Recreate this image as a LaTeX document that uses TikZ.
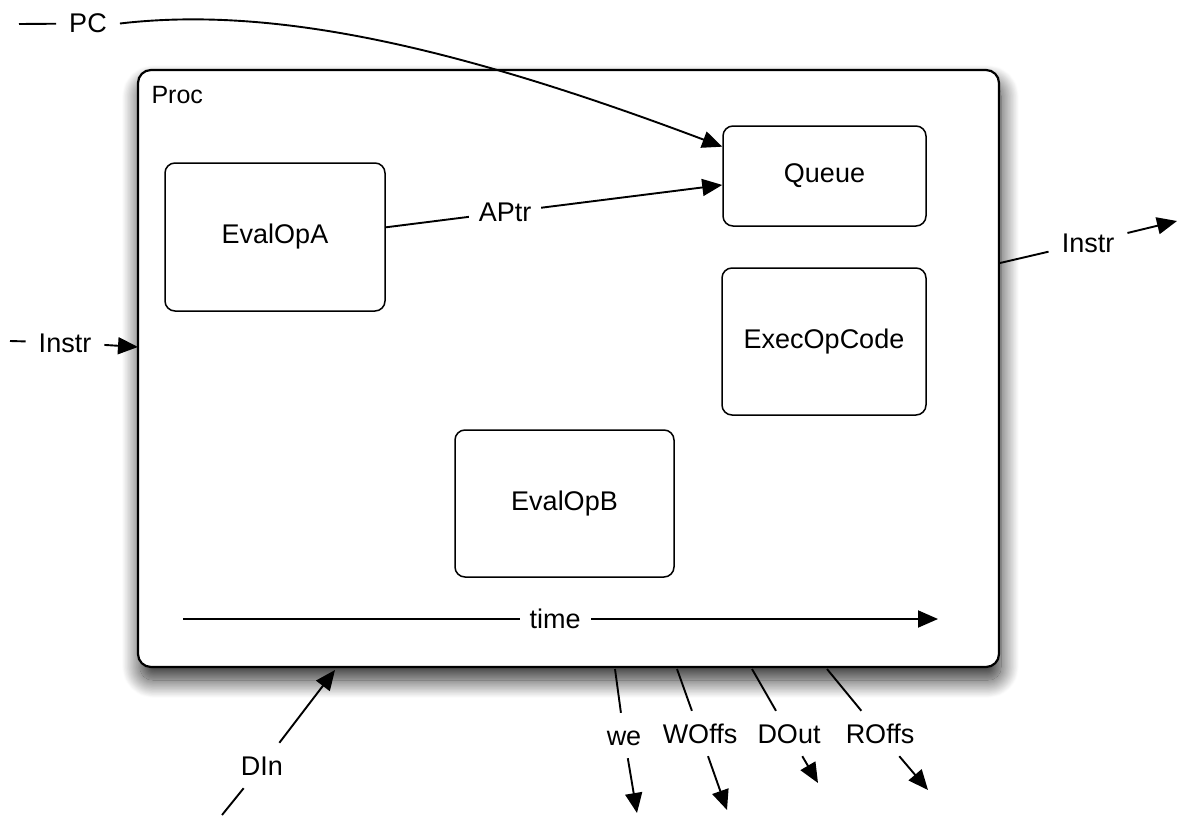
\documentclass[tikz,border=0pt]{standalone}
\usepackage{fontspec}
\setmainfont{Liberation Sans}
\usetikzlibrary{arrows.meta,shadows.blur}
\begin{document}
\begin{tikzpicture}[x=1pt,y=-1pt,
  every node/.style={font=\fontsize{27}{32}\selectfont},
  procbox/.style={draw, line width=2.2pt, rounded corners=13pt, fill=white,
    blur shadow={shadow xshift=2pt, shadow yshift=-13pt, shadow blur radius=18pt,
                 shadow blur steps=30, shadow opacity=85}},
  stage/.style={draw, line width=1.5pt, rounded corners=10pt, fill=white},
  wire/.style={line width=1.9pt},
  tip/.style={wire, -{Triangle[length=20pt,width=17pt]}},
  port/.style={anchor=base, inner sep=13pt, text height=19pt, text depth=0pt},
  inline/.style={fill=white, inner xsep=10pt, inner ysep=4pt},
]
\useasboundingbox (0,0) rectangle (1178,816);

% enclosing process
\node[procbox, minimum width=861pt, minimum height=597pt] (proc) at (568.5,368.5) {};
\node[anchor=base west, font=\fontsize{25}{30}\selectfont] (proclab) at (148,103) {Proc};

% inner stages
\node[stage, minimum width=220pt, minimum height=148pt] (evala) at (275,237) {EvalOpA};
\node[stage, minimum width=203pt, minimum height=100pt] (queue) at (824.5,176) {Queue};
\node[stage, minimum width=204pt, minimum height=147pt] (exec) at (824,341.5) {ExecOpCode};
\node[stage, minimum width=219pt, minimum height=147pt] (evalb) at (564.5,503.5) {EvalOpB};

% time axis
\coordinate (t0) at (183,619);
\coordinate (t1) at (938,619);
\draw[tip] (t0) -- node[inline, pos=0.493] {time} (t1);

% APtr
\draw[tip] (evala.5) -- node[inline, pos=0.355] {APtr} (queue.185);

% PC input
\node[port] (pc) at (88,33) {PC};
\coordinate (pc0) at (19,24);
\draw[wire] (pc0) -- (pc);
\draw[tip] (pc.east) .. controls (270,6) and (450,44) .. (queue.164);

% Instr input
\node[port] (linstr) at (65,352) {Instr};
\coordinate (lin0) at (10,341);
\coordinate (lin1) at (138,347);
\draw[wire] (lin0) -- (linstr);
\draw[tip] (linstr) -- (lin1);

% Instr output
\node[port] (rinstr) at (1088,252) {Instr};
\coordinate (rin0) at (1000,263);
\coordinate (rin1) at (1177,221);
\draw[wire] (rin0) -- (rinstr);
\draw[tip] (rinstr) -- (rin1);

% DIn input
\node[port] (din) at (262,775) {DIn};
\coordinate (din0) at (222,815);
\coordinate (din1) at (335,670);
\draw[wire] (din0) -- (din);
\draw[tip] (din) -- (din1);

% memory outputs
\node[port] (we) at (624,745) {we};
\node[port] (woffs) at (700,743) {WOffs};
\node[port] (dout) at (789,743) {DOut};
\node[port] (roffs) at (880,743) {ROffs};
\coordinate (we0) at (615,669);   \coordinate (we1) at (637,813);
\coordinate (wo0) at (677,669);   \coordinate (wo1) at (727,810);
\coordinate (do0) at (752,669);   \coordinate (do1) at (818,783);
\coordinate (ro0) at (827,669);   \coordinate (ro1) at (928,790);
\draw[wire] (we0) -- (we);    \draw[tip] (we) -- (we1);
\draw[wire] (wo0) -- (woffs); \draw[tip] (woffs) -- (wo1);
\draw[wire] (do0) -- (dout);  \draw[tip] (dout) -- (do1);
\draw[wire] (ro0) -- (roffs); \draw[tip] (roffs) -- (ro1);
\end{tikzpicture}
\end{document}
